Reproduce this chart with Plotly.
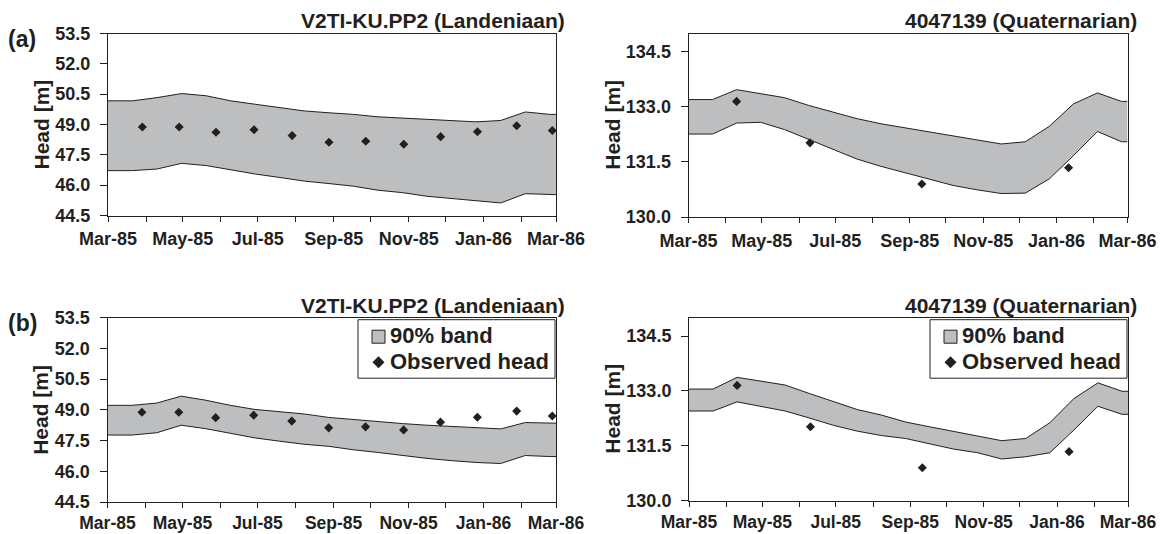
import plotly.graph_objects as go

# Time steps of the simulated 90% band (every 20 days)
band_dates = [
    "1985-03-01", "1985-03-21", "1985-04-10", "1985-04-30", "1985-05-20",
    "1985-06-09", "1985-06-29", "1985-07-19", "1985-08-08", "1985-08-28",
    "1985-09-17", "1985-10-07", "1985-10-27", "1985-11-16", "1985-12-06",
    "1985-12-26", "1986-01-15", "1986-02-04", "1986-02-24", "1986-03-01",
]

# V2TI-KU.PP2 (Landeniaan)
land_obs_dates = [
    "1985-03-29", "1985-04-28", "1985-05-28", "1985-06-28", "1985-07-29",
    "1985-08-28", "1985-09-27", "1985-10-28", "1985-11-27", "1985-12-27",
    "1986-01-28", "1986-02-26",
]
land_obs = [48.88, 48.88, 48.62, 48.74, 48.45, 48.12, 48.17, 48.02, 48.40, 48.64, 48.94, 48.70]

land_a_upper = [50.17, 50.17, 50.33, 50.53, 50.42, 50.17, 50.00, 49.83, 49.67, 49.58,
                49.50, 49.38, 49.32, 49.25, 49.20, 49.13, 49.20, 49.62, 49.50, 49.50]
land_a_lower = [46.72, 46.72, 46.80, 47.08, 46.97, 46.75, 46.55, 46.38, 46.20, 46.08,
                45.95, 45.75, 45.63, 45.45, 45.33, 45.23, 45.12, 45.58, 45.53, 45.53]
land_b_upper = [49.22, 49.22, 49.33, 49.67, 49.47, 49.22, 49.02, 48.92, 48.80, 48.63,
                48.52, 48.43, 48.33, 48.25, 48.18, 48.13, 48.07, 48.38, 48.35, 48.35]
land_b_lower = [47.77, 47.77, 47.88, 48.25, 48.08, 47.85, 47.63, 47.47, 47.32, 47.22,
                47.05, 46.92, 46.77, 46.63, 46.52, 46.43, 46.38, 46.77, 46.72, 46.72]

# 4047139 (Quaternarian)
quat_obs_dates = ["1985-04-10", "1985-06-10", "1985-09-11", "1986-01-11"]
quat_obs = [133.15, 132.02, 130.90, 131.34]

quat_a_upper = [133.20, 133.20, 133.47, 133.36, 133.25, 133.04, 132.85, 132.68, 132.54, 132.43,
                132.31, 132.20, 132.08, 131.99, 132.05, 132.47, 133.08, 133.38, 133.15, 133.15]
quat_a_lower = [132.26, 132.26, 132.56, 132.58, 132.38, 132.11, 131.84, 131.58, 131.38, 131.20,
                131.02, 130.86, 130.74, 130.64, 130.65, 131.04, 131.67, 132.33, 132.05, 132.05]
quat_b_upper = [133.05, 133.05, 133.37, 133.26, 133.16, 132.93, 132.70, 132.49, 132.34, 132.15,
                132.02, 131.90, 131.77, 131.64, 131.70, 132.13, 132.79, 133.22, 132.99, 132.99]
quat_b_lower = [132.45, 132.45, 132.70, 132.58, 132.45, 132.26, 132.06, 131.90, 131.78, 131.70,
                131.55, 131.41, 131.31, 131.14, 131.20, 131.31, 131.93, 132.58, 132.36, 132.36]

land_ticks = [44.5, 46.0, 47.5, 49.0, 50.5, 52.0, 53.5]
quat_ticks = [130.0, 131.5, 133.0, 134.5]

titles = ["V2TI-KU.PP2 (Landeniaan)", "4047139 (Quaternarian)"]
legend_labels = ["90% band", "Observed head"]

FONT = "Liberation Sans, Arial, sans-serif"
INK = "#231f20"
BAND = "#bcbec0"

W, H = 1161, 534
# pixel boxes of each plotting area: (left, right, top, bottom)
boxes = {
    ("a", 0): (108, 556, 33.5, 215.5),
    ("a", 1): (688.5, 1127.5, 33.5, 217),
    ("b", 0): (107.5, 556, 317.7, 502),
    ("b", 1): (689, 1128, 317.7, 500.7),
}

panels = [
    ("a", 0, land_a_upper, land_a_lower, land_obs_dates, land_obs),
    ("a", 1, quat_a_upper, quat_a_lower, quat_obs_dates, quat_obs),
    ("b", 0, land_b_upper, land_b_lower, land_obs_dates, land_obs),
    ("b", 1, quat_b_upper, quat_b_lower, quat_obs_dates, quat_obs),
]


def px(x):
    return x / W


def py(y):
    return 1 - y / H


fig = go.Figure()
layout = {}
annotations = []
shapes = []

for i, (row, col, upper, lower, odates, ovals) in enumerate(panels):
    n = i + 1
    xa = "x" if n == 1 else f"x{n}"
    ya = "y" if n == 1 else f"y{n}"
    l, r, t, b = boxes[(row, col)]

    fig.add_trace(go.Scatter(
        x=band_dates, y=lower, xaxis=xa, yaxis=ya, mode="lines",
        line=dict(color=INK, width=1), showlegend=False, hoverinfo="skip"))
    fig.add_trace(go.Scatter(
        x=band_dates, y=upper, xaxis=xa, yaxis=ya, mode="lines",
        fill="tonexty", fillcolor=BAND, name="90% band",
        line=dict(color=INK, width=1), showlegend=False, hoverinfo="skip"))
    fig.add_trace(go.Scatter(
        x=odates, y=ovals, xaxis=xa, yaxis=ya, mode="markers",
        marker=dict(symbol="diamond", size=7, color=INK),
        showlegend=False, name="Observed head"))

    is_land = col == 0
    ticks = land_ticks if is_land else quat_ticks
    yr = [44.5, 53.5] if is_land else [130.0, 135.0]

    xkey = "xaxis" if n == 1 else f"xaxis{n}"
    ykey = "yaxis" if n == 1 else f"yaxis{n}"
    layout[xkey] = dict(
        type="date", domain=[px(l), px(r)], anchor=ya, automargin=False,
        range=["1985-03-01", "1986-03-01"],
        tick0="1985-03-01", dtick="M2", tickformat="%b-%y",
        ticks="outside", ticklen=5, tickcolor=INK, tickwidth=1,
        minor=dict(dtick="M1", ticks="outside", ticklen=5, tickcolor=INK),
        showline=True, linecolor=INK, linewidth=1, mirror=True,
        showgrid=False, zeroline=False,
        ticklabelstandoff=2 if row == "a" else 0,
        tickfont=dict(family=FONT, size=18 if row == "a" else 17.5,
                      color=INK, weight="bold"),
    )
    layout[ykey] = dict(
        domain=[py(b), py(t)], anchor=xa, range=yr, automargin=False,
        tickvals=ticks, ticktext=[f"{v:.1f}" for v in ticks],
        ticks="outside", ticklen=7, tickcolor=INK, tickwidth=1,
        showline=True, linecolor=INK, linewidth=1, mirror=True,
        showgrid=False, zeroline=False, ticklabelstandoff=6,
        tickfont=dict(family=FONT, size=18, color=INK, weight="bold"),
    )

    # panel title, right aligned near the plot's right edge
    annotations.append(dict(
        text=titles[col], xref="paper", yref="paper",
        x=px(r + 11), y=py(t - 12.5), xanchor="right", yanchor="middle",
        showarrow=False, font=dict(family=FONT, size=21, color=INK, weight="bold")))
    # y axis title
    annotations.append(dict(
        text="Head [m]", xref="paper", yref="paper",
        x=px(41 if is_land else 612.5), y=py((t + b) / 2),
        xanchor="center", yanchor="middle", textangle=-90,
        showarrow=False, font=dict(family=FONT, size=21, color=INK, weight="bold")))

    # key box in the upper right corner of the lower panels
    if row == "b":
        bx1, by0 = r - 1, t + 2
        bx0, by1 = bx1 - 197, by0 + 58.5
        shapes.append(dict(type="rect", xref="paper", yref="paper",
                           x0=px(bx0), x1=px(bx1), y0=py(by1), y1=py(by0),
                           fillcolor="white", line=dict(color=INK, width=1)))
        # band swatch
        sx0, sy0 = bx0 + 14, by0 + 10.5
        shapes.append(dict(type="rect", xref="paper", yref="paper",
                           x0=px(sx0), x1=px(sx0 + 13), y0=py(sy0 + 13), y1=py(sy0),
                           fillcolor=BAND, line=dict(color=INK, width=1)))
        # observed-head glyph
        cx, cy, hr = bx0 + 20.5, by0 + 42.5, 6
        path = (f"M {px(cx)} {py(cy - hr)} L {px(cx + hr)} {py(cy)} "
                f"L {px(cx)} {py(cy + hr)} L {px(cx - hr)} {py(cy)} Z")
        shapes.append(dict(type="path", xref="paper", yref="paper", path=path,
                           fillcolor=INK, line=dict(color=INK, width=0)))
        for k, lab in enumerate(legend_labels):
            annotations.append(dict(
                text=lab, xref="paper", yref="paper",
                x=px(bx0 + 30), y=py(by0 + 15.5 + k * 26.5),
                xanchor="left", yanchor="middle", showarrow=False,
                font=dict(family=FONT, size=22, color=INK, weight="bold")))

for lab, yc in (("(a)", 39), ("(b)", 323)):
    annotations.append(dict(text=lab, xref="paper", yref="paper", x=px(22), y=py(yc),
                            xanchor="center", yanchor="middle", showarrow=False,
                            font=dict(family=FONT, size=23, color=INK, weight="bold")))

fig.update_layout(
    width=W, height=H, margin=dict(l=0, r=0, t=0, b=0),
    paper_bgcolor="white", plot_bgcolor="white",
    showlegend=False,
    annotations=annotations,
    shapes=shapes,
    **layout,
)

fig.write_html("out.html")
